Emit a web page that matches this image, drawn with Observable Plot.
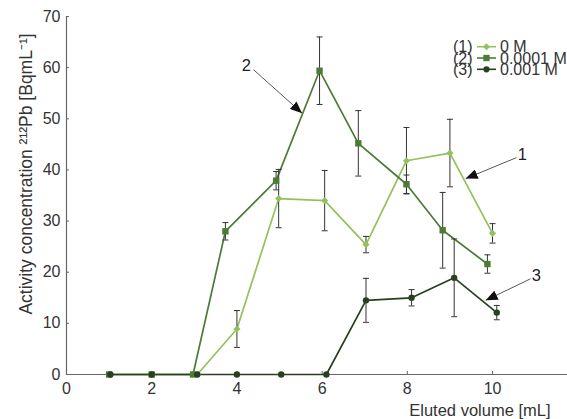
<!DOCTYPE html>
<html><head><meta charset="utf-8">
<script src="https://cdn.jsdelivr.net/npm/d3@7"></script>
<script src="https://cdn.jsdelivr.net/npm/@observablehq/plot@0.6"></script>
<style>
body{margin:0;background:#fff;}
#chart{position:relative;width:567px;height:419px;overflow:hidden;font-family:"Liberation Sans",Arial,sans-serif;}
#legend{position:absolute;left:0;top:0;}
</style></head><body><div id="chart"></div>
<script>
// ---- data ----
const seriesNames = ["0 M", "0.0001 M", "0.001 M"];
const seriesTags = ["(1)", "(2)", "(3)"];
const seriesColors = ["#93c15e", "#4c7b35", "#2a3f22"];

const x0M = [1, 2, 3.07, 4, 4.98, 6.06, 7.03, 7.98, 9, 10];
const y0M = [0, 0, 0, 8.9, 34.4, 34.0, 25.4, 41.8, 43.3, 27.6];
const e0M = [0, 0, 0, 3.6, 5.7, 5.9, 1.6, 6.5, 6.6, 1.9];

const x1e4M = [1, 2, 2.97, 3.73, 4.92, 5.94, 6.85, 7.98, 8.83, 9.88];
const y1e4M = [0, 0, 0, 28.0, 37.9, 59.4, 45.2, 37.2, 28.2, 21.6];
const e1e4M = [0, 0, 0, 1.7, 1.8, 6.6, 6.4, 1.8, 7.4, 1.8];

const x1e3M = [1.03, 2, 3.07, 4, 5.04, 6.1, 7.03, 8.1, 9.1, 10.1];
const y1e3M = [0, 0, 0, 0, 0, 0, 14.5, 15.0, 18.9, 12.1];
const e1e3M = [0, 0, 0, 0, 0, 0, 4.3, 1.6, 7.6, 1.4];

const xTicks = [0, 2, 4, 6, 8, 10];
const yTicks = [0, 10, 20, 30, 40, 50, 60, 70];
const xLabel = "Eluted volume [mL]";
const yLabel = "Activity concentration ²¹²Pb [BqmL⁻¹]";

// annotation arrows: label, label position, arrow start, arrow tip (data units)
const annLabels = ["2", "1", "3"];
const annLabelX = [4.22, 10.7, 11.03];
const annLabelY = [60.4, 42.9, 19.3];
const annX1 = [4.39, 10.56, 10.89];
const annY1 = [59.6, 42.4, 18.7];
const annX2 = [5.53, 9.37, 9.84];
const annY2 = [51.1, 38.3, 14.5];

// ---- build tables ----
const xs = [x0M, x1e4M, x1e3M], ys = [y0M, y1e4M, y1e3M], es = [e0M, e1e4M, e1e3M];
const rows = [];
seriesNames.forEach((s, i) => xs[i].forEach((x, j) => rows.push({series: s, si: i, x, y: ys[i][j], e: es[i][j]})));
const errRows = rows.filter(d => d.e > 0);
const anns = annLabels.map((t, i) => ({t, lx: annLabelX[i], ly: annLabelY[i], x1: annX1[i], y1: annY1[i], x2: annX2[i], y2: annY2[i]}));

const capSymbol = {draw(ctx, size) { const w = Math.sqrt(size / Math.PI); ctx.moveTo(-w, 0); ctx.lineTo(w, 0); }};
const triMarker = (color, context) => {
  const doc = (context && context.document) || document;
  const m = doc.createElementNS("http://www.w3.org/2000/svg", "marker");
  m.setAttribute("viewBox", "-12 -5 12 10");
  m.setAttribute("markerWidth", 12);
  m.setAttribute("markerHeight", 10);
  m.setAttribute("markerUnits", "userSpaceOnUse");
  m.setAttribute("refX", 0);
  m.setAttribute("refY", 0);
  m.setAttribute("orient", "auto");
  const p = doc.createElementNS("http://www.w3.org/2000/svg", "path");
  p.setAttribute("d", "M0,0L-12,-5L-12,5Z");
  p.setAttribute("fill", "#111");
  p.setAttribute("stroke", "none");
  m.appendChild(p);
  return m;
};

const colorScale = {domain: seriesNames, range: seriesColors};

const plot = Plot.plot({
  width: 567, height: 419,
  marginLeft: 66, marginRight: 0, marginTop: 16, marginBottom: 45,
  style: {fontFamily: "'Liberation Sans', Arial, sans-serif", fontSize: "16px", color: "#333", background: "white"},
  x: {domain: [0, 11.76], label: null},
  y: {domain: [0, 70], label: null},
  color: colorScale,
  marks: [
    Plot.axisX({ticks: xTicks, tickSize: 0, tickPadding: 8, fontSize: 16, label: null}),
    Plot.axisX({ticks: xTicks, tickSize: -3, text: null, label: null, stroke: "#666"}),
    Plot.axisY({ticks: yTicks, tickSize: 0, tickPadding: 6, fontSize: 16, label: null}),
    Plot.axisY({ticks: yTicks, tickSize: -3, text: null, label: null, stroke: "#666"}),
    Plot.ruleY([0], {stroke: "#666", strokeWidth: 1.2}),
    Plot.ruleX([0], {stroke: "#666", strokeWidth: 1.2}),
    Plot.line(rows, {x: "x", y: "y", z: "series", stroke: "series", strokeWidth: 1.7}),
    Plot.ruleX(errRows, {x: "x", y1: d => d.y - d.e, y2: d => d.y + d.e, stroke: "#333", strokeWidth: 1}),
    Plot.dot(errRows, {x: "x", y: d => d.y - d.e, symbol: capSymbol, r: 3, stroke: "#333", strokeWidth: 1, fill: "none"}),
    Plot.dot(errRows, {x: "x", y: d => d.y + d.e, symbol: capSymbol, r: 3, stroke: "#333", strokeWidth: 1, fill: "none"}),
    Plot.dot(rows.filter(d => d.si === 0), {x: "x", y: "y", symbol: "diamond2", r: 3.2, fill: seriesColors[0], stroke: "none"}),
    Plot.dot(rows.filter(d => d.si === 1), {x: "x", y: "y", symbol: "square", r: 3.6, fill: seriesColors[1], stroke: "none"}),
    Plot.dot(rows.filter(d => d.si === 2), {x: "x", y: "y", symbol: "circle", r: 3.2, fill: seriesColors[2], stroke: "none"}),
    Plot.link(anns, {x1: "x1", y1: "y1", x2: "x2", y2: "y2", stroke: "#444", strokeWidth: 0.9, markerEnd: triMarker}),
    Plot.text(anns, {x: "lx", y: "ly", text: "t", fontSize: 16.5, fill: "#222"}),
    Plot.text([yLabel], {frameAnchor: "left", textAnchor: "middle", rotate: -90, dx: -40, dy: -21.5, fontSize: 17.5, fill: "#333"}),
    Plot.text([xLabel], {frameAnchor: "bottom-right", textAnchor: "end", dx: -17, dy: 41, fontSize: 16.5, fill: "#333"})
  ]
});
const chart = document.getElementById("chart");
chart.appendChild(plot);

// legend overlay
const lg = d3.select(chart).append("svg").attr("id", "legend").attr("width", 567).attr("height", 419)
  .style("font-family", "'Liberation Sans', Arial, sans-serif").style("font-size", "16px");
const symGen = [d3.symbolDiamond2, d3.symbolSquare, d3.symbolCircle];
const symSize = [32, 40, 30];
seriesNames.forEach((s, i) => {
  const cy = 46.7 + i * 11.3;
  const g = lg.append("g");
  g.append("text").attr("x", 453).attr("y", cy).attr("dy", "0.36em").attr("fill", "#333").text(seriesTags[i]);
  g.append("line").attr("x1", 477).attr("x2", 496).attr("y1", cy).attr("y2", cy).attr("stroke", seriesColors[i]).attr("stroke-width", 1.6);
  g.append("path").attr("transform", `translate(486.5,${cy})`).attr("d", d3.symbol(symGen[i], symSize[i])()).attr("fill", seriesColors[i]);
  g.append("text").attr("x", 500).attr("y", cy).attr("dy", "0.36em").attr("fill", "#333").text(s);
});
</script></body></html>
